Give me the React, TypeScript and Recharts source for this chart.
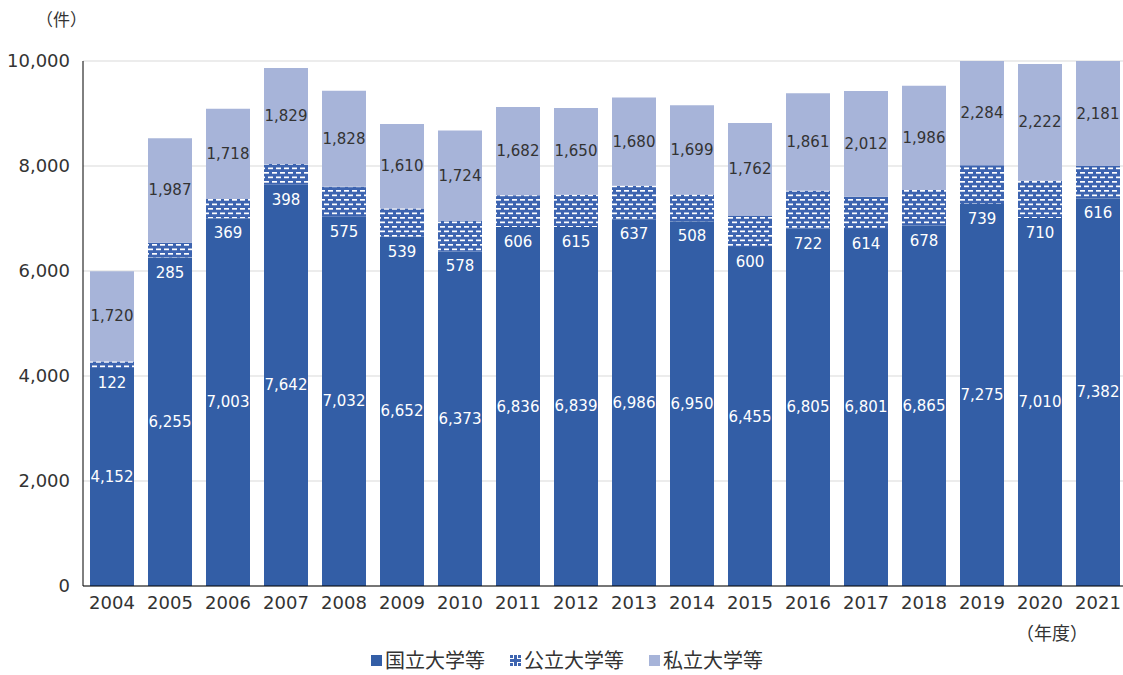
import React from "react";
import { BarChart, Bar, XAxis, YAxis, CartesianGrid, LabelList } from "recharts";

const years = ["2004","2005","2006","2007","2008","2009","2010","2011","2012","2013","2014","2015","2016","2017","2018","2019","2020","2021"];
const national = [4152,6255,7003,7642,7032,6652,6373,6836,6839,6986,6950,6455,6805,6801,6865,7275,7010,7382];
const publicU = [122,285,369,398,575,539,578,606,615,637,508,600,722,614,678,739,710,616];
const privateU = [1720,1987,1718,1829,1828,1610,1724,1682,1650,1680,1699,1762,1861,2012,1986,2284,2222,2181];
const yTicks = [0,2000,4000,6000,8000,10000];
const seriesNames = ["国立大学等", "公立大学等", "私立大学等"];

const data = years.map((y, i) => ({ year: y, national: national[i], publicU: publicU[i], privateU: privateU[i] }));

const NUMFONT = "'DejaVu Sans', 'Noto Sans CJK JP', sans-serif";
const JPFONT = "'Noto Sans CJK JP', sans-serif";
const C_NAT = "#335ea6";
const C_PUB = "#3d64b0";
const C_PRI = "#a7b4d9";
const fmt = (v: number) => v.toLocaleString("en-US");

const CenterLabel = (color: string) => (props: any) => {
  const { x, y, width, height, value } = props;
  return (
    <text x={x + width / 2} y={y + height / 2} fill={color} fontSize={15} fontFamily={NUMFONT}
      textAnchor="middle" dominantBaseline="central">{fmt(value)}</text>
  );
};

const PubLabel = (props: any) => {
  const { x, y, width, height, value } = props;
  return (
    <text x={x + width / 2} y={y + height + 15} fill="#ffffff" fontSize={15} fontFamily={NUMFONT}
      textAnchor="middle" dominantBaseline="central">{fmt(value)}</text>
  );
};

const LegendBox = () => {
  const fills = [C_NAT, "url(#pubIcon)", C_PRI];
  return (
    <div style={{ position: "absolute", left: 0, width: 1123, top: 650, display: "flex", justifyContent: "center",
      gap: 25, fontFamily: JPFONT, fontSize: 20, color: "#333", lineHeight: "20px", paddingLeft: 11, boxSizing: "border-box" }}>
      {seriesNames.map((name, i) => (
        <div key={name} style={{ display: "flex", alignItems: "center" }}>
          <svg width={11} height={11} style={{ marginRight: 3 }}>
            {i === 1 && (
              <defs>
                <pattern id="pubIcon" patternUnits="userSpaceOnUse" width={11} height={11}>
                  <rect width={11} height={11} fill="#ffffff" />
                  <rect x={0} y={4} width={11} height={3} fill={C_PUB} />
                  <rect x={4} y={0} width={3} height={11} fill={C_PUB} />
                  <rect x={0} y={0} width={3} height={3} fill={C_PUB} />
                  <rect x={8} y={0} width={3} height={3} fill={C_PUB} />
                  <rect x={0} y={8} width={3} height={3} fill={C_PUB} />
                  <rect x={8} y={8} width={3} height={3} fill={C_PUB} />
                </pattern>
              </defs>
            )}
            <rect width={11} height={11} fill={fills[i]} />
          </svg>
          <span>{name}</span>
        </div>
      ))}
    </div>
  );
};

export default function App() {
  return (
    <div style={{ position: "absolute", left: 0, top: 0, width: 1123, height: 675, overflow: "hidden" }}>
      <div style={{ position: "absolute", left: 36, top: 8, fontFamily: JPFONT, fontSize: 17, color: "#333", lineHeight: "22px" }}>（件）</div>
      <div style={{ position: "absolute", left: 1016, top: 621, fontFamily: JPFONT, fontSize: 18, color: "#333", lineHeight: "22px" }}>（年度）</div>
      <BarChart width={1127} height={675} data={data} margin={{ top: 61, right: 0, left: 0, bottom: 49 }}
        barCategoryGap={0} barSize={44}>
        <defs>
          <pattern id="pubPattern" patternUnits="userSpaceOnUse" width={8} height={9}>
            <rect width={8} height={9} fill={C_PUB} />
            <rect x={0} y={1} width={5} height={1.7} fill="#ffffff" />
            <rect x={4} y={5.5} width={5} height={1.7} fill="#ffffff" />
            <rect x={-4} y={5.5} width={5} height={1.7} fill="#ffffff" />
          </pattern>
        </defs>
        <CartesianGrid vertical={false} stroke="#d9d9d9" />
        <XAxis dataKey="year" tickLine={false} axisLine={{ stroke: "#000" }} height={40}
          tick={{ fontSize: 18, fill: "#333", fontFamily: NUMFONT }} dy={2} interval={0} />
        <YAxis domain={[0, 10000]} ticks={yTicks} allowDataOverflow width={83} tickLine={false}
          axisLine={{ stroke: "#000" }} tickFormatter={fmt}
          tick={{ fontSize: 18, fill: "#333", fontFamily: NUMFONT }} dx={-5} />
        <Bar dataKey="national" name={seriesNames[0]} stackId="a" fill={C_NAT} isAnimationActive={false}>
          <LabelList dataKey="national" content={CenterLabel("#ffffff")} />
        </Bar>
        <Bar dataKey="publicU" name={seriesNames[1]} stackId="a" fill="url(#pubPattern)" isAnimationActive={false}>
          <LabelList dataKey="publicU" content={PubLabel} />
        </Bar>
        <Bar dataKey="privateU" name={seriesNames[2]} stackId="a" fill={C_PRI} isAnimationActive={false}>
          <LabelList dataKey="privateU" content={CenterLabel("#333333")} />
        </Bar>
      </BarChart>
      <LegendBox />
    </div>
  );
}
